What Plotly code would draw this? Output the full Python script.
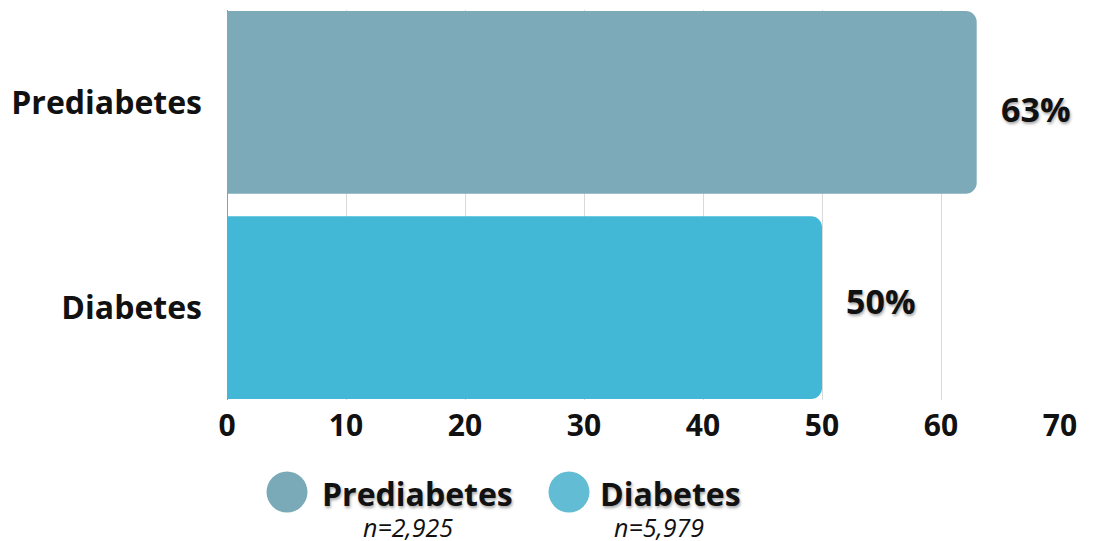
import plotly.graph_objects as go

# Share of adults by group
categories = ["Diabetes", "Prediabetes"]
values = [50, 63]
bar_colors = ["#42B8D6", "#7DAAB9"]

legend_names = ["Prediabetes", "Diabetes"]
legend_counts = ["n=2,925", "n=5,979"]
legend_colors = ["#7AAAB8", "#62BCD4"]

x_ticks = [0, 10, 20, 30, 40, 50, 60, 70]

FONT = "Open Sans"
SHADOW = "1px 2px 3px rgba(0,0,0,0.35)"

W, H = 1095, 541
L, R, T, B = 227, 35, 10, 141
plot_w = W - L - R
plot_h = H - T - B


def px_x(px):
    return (px - L) / plot_w


def px_y(py):
    return (H - B - py) / plot_h


fig = go.Figure()
fig.add_trace(go.Bar(
    x=values,
    y=categories,
    orientation="h",
    width=0.89,
    marker=dict(color=bar_colors, line=dict(width=0)),
    showlegend=False,
    hoverinfo="skip",
))

# Value labels beside each bar
label_yshift = {"Diabetes": 7, "Prediabetes": -7}
annotations = []
for cat, val in zip(categories, values):
    annotations.append(dict(
        x=val, y=cat, xref="x", yref="y",
        text=f"<b>{val}%</b>", showarrow=False,
        xanchor="left", yanchor="middle",
        xshift=22, yshift=label_yshift[cat],
        font=dict(family=FONT, size=34, color="#111111", shadow=SHADOW),
    ))

# Custom legend below the axis
shapes = []
legend_circle_x = [287, 569]
legend_text_x = [320, 598]
legend_count_x = [408, 659]
for name, count, color, cx, tx, nx in zip(legend_names, legend_counts, legend_colors,
                                        legend_circle_x, legend_text_x, legend_count_x):
    shapes.append(dict(
        type="circle", xref="paper", yref="paper",
        xsizemode="pixel", ysizemode="pixel",
        xanchor=px_x(cx), yanchor=px_y(492),
        x0=-20.5, x1=20.5, y0=-20.5, y1=20.5,
        fillcolor=color, line=dict(width=0),
    ))
    annotations.append(dict(
        x=px_x(tx), y=px_y(493), xref="paper", yref="paper",
        text=f"<b>{name}</b>", showarrow=False,
        xanchor="left", yanchor="middle",
        font=dict(family=FONT, size=32, color="#111111", shadow=SHADOW),
    ))
    annotations.append(dict(
        x=px_x(nx), y=px_y(527), xref="paper", yref="paper",
        text=f"<i>{count}</i>", showarrow=False,
        xanchor="center", yanchor="middle",
        font=dict(family=FONT, size=25, color="#111111"),
    ))

# Source note at the bottom edge
annotations.append(dict(
    x=px_x(822), y=px_y(537), xref="paper", yref="paper",
    text="Native Hawaiian Health", showarrow=False,
    xanchor="left", yanchor="top",
    font=dict(family=FONT, size=18, color="#333333"),
))

fig.update_layout(
    width=W, height=H,
    margin=dict(l=L, r=R, t=T, b=B, pad=0),
    paper_bgcolor="white",
    plot_bgcolor="white",
    barcornerradius=11,
    font=dict(family=FONT, color="#111111"),
    xaxis=dict(
        range=[0, 70],
        tickvals=x_ticks,
        ticktext=[f"<b>{t}</b>" for t in x_ticks],
        tickfont=dict(family=FONT, size=30, color="#111111"),
        showgrid=True, gridcolor="#D9D9D9", gridwidth=1,
        zeroline=True, zerolinecolor="#9A9A9A", zerolinewidth=1,
        showline=False, ticks="", ticklabelstandoff=5,
        fixedrange=True,
    ),
    yaxis=dict(
        categoryorder="array", categoryarray=categories,
        range=[-0.45, 1.45],
        tickvals=categories,
        ticktext=[f"<b>{c}</b>" for c in categories],
        tickfont=dict(family=FONT, size=32, color="#111111"),
        showgrid=False, zeroline=False, showline=False, ticks="",
        ticklabelstandoff=24,
        fixedrange=True,
    ),
    shapes=shapes,
    annotations=annotations,
    showlegend=False,
)

fig.write_html("out.html")
